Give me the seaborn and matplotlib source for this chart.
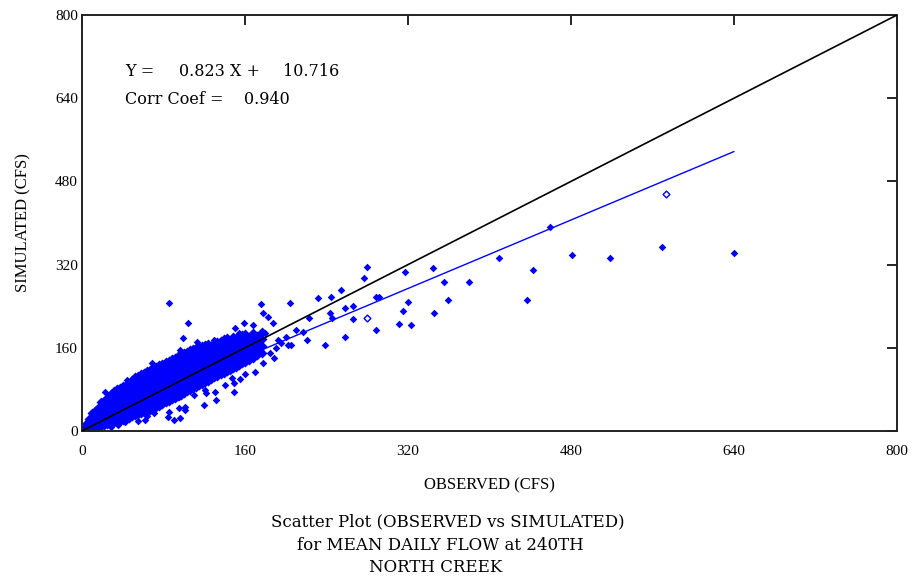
import matplotlib
matplotlib.use("Agg")
import matplotlib.pyplot as plt
import seaborn as sns
import numpy as np
import pandas as pd

# ---------------- data ----------------
# dense band of daily points: observed value per column and its simulated values
band_obs = [4, 7, 10, 13, 16, 19, 22, 25, 28, 31, 34, 37, 40, 43, 46, 49, 52, 55, 58,
            61, 64, 67, 70, 73, 76, 79, 82, 85, 88, 91, 94, 97, 100, 103, 106, 109,
            112, 115, 118, 121, 124, 127, 130, 133, 136, 139, 142, 145, 148, 151,
            154, 157, 160, 164, 168, 172, 177]
band_sim = [
    [3, 8, 14], [4, 11, 18, 24], [5, 12, 19, 27, 34], [7, 15, 22, 30, 39],
    [8, 17, 26, 33, 44], [10, 18, 28, 37, 47, 55], [11, 20, 31, 40, 49, 58],
    [13, 23, 33, 42, 53, 63], [15, 24, 35, 45, 55, 66, 72], [17, 27, 37, 48, 58, 67, 76],
    [18, 29, 39, 50, 61, 70, 80], [20, 31, 42, 52, 63, 73, 83], [22, 33, 44, 54, 65, 76, 86],
    [24, 35, 46, 57, 67, 78, 89], [25, 37, 48, 59, 70, 81, 92], [28, 39, 50, 61, 72, 83, 94, 99],
    [30, 41, 53, 64, 75, 86, 97, 103], [32, 44, 55, 66, 78, 89, 100, 106],
    [34, 46, 57, 69, 80, 91, 102, 109], [37, 48, 60, 71, 83, 94, 105, 112],
    [39, 51, 62, 74, 85, 96, 108, 115], [41, 53, 65, 76, 88, 99, 110, 118],
    [44, 56, 67, 79, 90, 102, 113, 121], [46, 58, 70, 82, 93, 104, 116, 124],
    [49, 61, 73, 84, 96, 107, 118, 126], [52, 64, 75, 87, 98, 110, 121, 129],
    [55, 66, 78, 90, 101, 112, 124, 132], [58, 69, 81, 92, 104, 115, 127, 135],
    [61, 72, 84, 95, 107, 118, 129, 138], [64, 75, 87, 98, 110, 121, 132, 141],
    [67, 78, 90, 101, 112, 124, 135, 144], [70, 81, 93, 104, 115, 127, 138, 147],
    [73, 84, 96, 107, 118, 130, 141, 150], [76, 87, 99, 110, 121, 132, 144, 152],
    [79, 90, 102, 113, 124, 135, 146, 155], [82, 93, 105, 116, 127, 138, 149, 157],
    [85, 96, 108, 119, 130, 141, 151, 160], [88, 99, 111, 122, 133, 144, 154, 162],
    [91, 102, 114, 125, 136, 146, 156, 164], [94, 105, 117, 128, 139, 149, 158, 166],
    [97, 109, 120, 131, 142, 152, 161, 168], [100, 112, 123, 134, 145, 155, 164],
    [103, 115, 126, 137, 148, 158, 170], [106, 118, 129, 140, 151, 161, 172],
    [109, 121, 132, 143, 154, 164, 174], [112, 124, 135, 146, 157, 167, 176],
    [115, 127, 138, 149, 160, 170, 178], [118, 130, 141, 152, 163, 173],
    [121, 133, 144, 155, 166, 176, 181], [124, 136, 147, 158, 168, 178],
    [127, 139, 150, 161, 171, 181], [130, 142, 153, 164, 174, 184],
    [133, 145, 156, 167, 177, 186], [137, 149, 160, 171, 181],
    [141, 153, 164, 175, 188], [146, 158, 170, 182], [150, 163, 176, 190],
]

# scattered points around the band and high-flow outliers
scatter_obs = [23, 44, 69, 74, 96, 42, 59, 71, 85, 95, 90, 84, 96, 101, 120, 132, 122, 131,
               149, 149, 121, 147, 123, 170, 178, 101, 95, 28, 35, 55, 64, 62, 110, 140,
               160, 155, 185, 190, 195, 188, 200, 205, 210, 192,
               85, 104, 176, 178, 183, 187, 168, 159, 150, 154, 99, 113, 130, 140, 167,
               180, 204, 202, 217, 221, 223, 232, 239, 243, 244, 245, 254, 258, 258, 266,
               266, 277, 280, 289, 292, 289, 311, 315, 317, 320, 323, 345, 346, 355, 359,
               380, 409, 437, 443, 459, 481, 518, 569, 640]
scatter_sim = [75, 98, 131, 83, 156, 17, 40, 34, 37, 44, 21, 27, 25, 40, 50, 60, 73, 75,
               75, 92, 79, 102, 102, 113, 131, 46, 65, 8, 12, 20, 28, 22, 70, 88,
               110, 100, 150, 160, 170, 140, 180, 165, 195, 175,
               246, 208, 245, 227, 219, 208, 204, 208, 198, 188, 179, 171, 175, 175, 185,
               188, 246, 165, 190, 175, 217, 256, 165, 227, 258, 217, 271, 237, 181, 240,
               215, 294, 315, 258, 258, 194, 206, 231, 306, 248, 204, 313, 227, 287, 252,
               287, 333, 252, 310, 392, 338, 333, 354, 342]

# hollow markers
hollow_obs = [280, 573]
hollow_sim = [217, 456]

# regression statistics
slope = 0.823
intercept = 10.716
corr = 0.940
reg_x = [4, 640]

ticks = [0, 160, 320, 480, 640, 800]

# ---------------- build table ----------------
bx, by = [], []
for xv, ys in zip(band_obs, band_sim):
    for yv in ys:
        bx.append(xv)
        by.append(yv)
df_band = pd.DataFrame({"obs": bx, "sim": by})
df_sc = pd.DataFrame({"obs": scatter_obs, "sim": scatter_sim})
df_h = pd.DataFrame({"obs": hollow_obs, "sim": hollow_sim})

reg_df = pd.DataFrame({"x": reg_x, "y": [slope * v + intercept for v in reg_x]})
one_df = pd.DataFrame({"x": [0, 800], "y": [0, 800]})

# ---------------- plot ----------------
sns.set_style("white")
plt.rcParams["font.family"] = ["Liberation Serif", "DejaVu Serif"]
plt.rcParams["font.size"] = 11
plt.rcParams["text.color"] = "black"
plt.rcParams["axes.labelcolor"] = "black"
plt.rcParams["xtick.color"] = "black"
plt.rcParams["ytick.color"] = "black"

fig = plt.figure(figsize=(9.14, 5.84), dpi=100)
ax = fig.add_axes([82 / 914, 1 - 431 / 584, (897 - 82) / 914, (431 - 15) / 584])

sns.scatterplot(data=df_band, x="obs", y="sim", ax=ax, marker="D", s=26, color="#0000FF",
                linewidth=0, zorder=2)
sns.scatterplot(data=df_sc, x="obs", y="sim", ax=ax, marker="D", s=15, color="#0000FF",
                linewidth=0, zorder=2)
sns.scatterplot(data=df_h, x="obs", y="sim", ax=ax, marker="D", s=12, facecolor="white",
                edgecolor="#0000FF", linewidth=1.0, zorder=3)
sns.lineplot(data=reg_df, x="x", y="y", ax=ax, color="#0000FF", linewidth=1.0, zorder=4)
sns.lineplot(data=one_df, x="x", y="y", ax=ax, color="black", linewidth=1.2, zorder=5)

ax.set_xlim(0, 800)
ax.set_ylim(0, 800)
ax.set_xticks(ticks)
ax.set_yticks(ticks)
ax.set_xticklabels([str(t) for t in ticks])
ax.set_yticklabels([str(t) for t in ticks])
ax.tick_params(axis="both", direction="in", length=7, width=1.2, color="black",
               top=True, right=True, labelsize=11, labelcolor="black")
ax.tick_params(axis="x", pad=10)
ax.tick_params(axis="y", pad=3)
for sp in ax.spines.values():
    sp.set_visible(True)
    sp.set_color("#222222")
    sp.set_linewidth(1.4)

ax.set_xlabel("OBSERVED (CFS)", fontsize=12, labelpad=14, color="black")
ax.set_ylabel("SIMULATED (CFS)", fontsize=12, labelpad=17, color="black")

serif_wide = ["DejaVu Serif", "Liberation Serif"]
ax.text(42, 692, "Y =", fontsize=11.5, family=serif_wide, va="center", ha="left")
ax.text(95, 692, f"{slope:.3f} X +", fontsize=11.5, family=serif_wide, va="center", ha="left")
ax.text(197, 692, f"{intercept:.3f}", fontsize=11.5, family=serif_wide, va="center", ha="left")
ax.text(42, 638, "Corr Coef =", fontsize=11.5, family=serif_wide, va="center", ha="left")
ax.text(159, 638, f"{corr:.3f}", fontsize=11.5, family=serif_wide, va="center", ha="left")

fig.text(448 / 914, 1 - 522 / 584, "Scatter Plot (OBSERVED vs SIMULATED)",
         ha="center", va="center", fontsize=12, family=serif_wide)
fig.text(440 / 914, 1 - 545 / 584, "for MEAN DAILY FLOW at 240TH",
         ha="center", va="center", fontsize=12, family=serif_wide)
fig.text(436 / 914, 1 - 568 / 584, "NORTH CREEK",
         ha="center", va="center", fontsize=12, family=serif_wide)

fig.savefig("out.png", dpi=100, facecolor="white")
